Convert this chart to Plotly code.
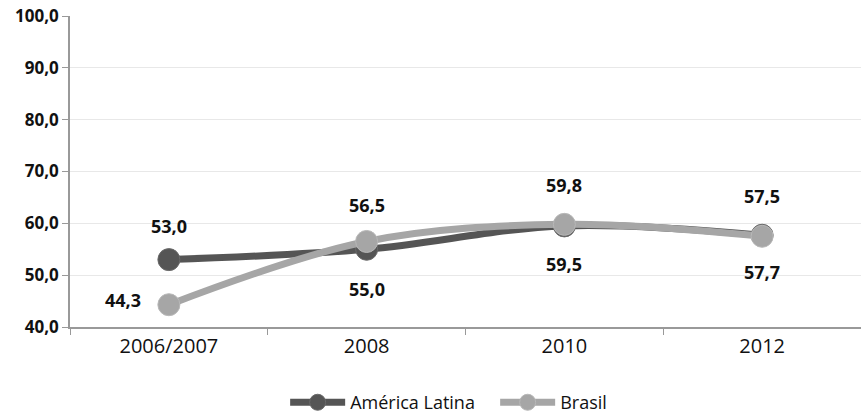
import plotly.graph_objects as go

categories = ["2006/2007", "2008", "2010", "2012"]
america_latina = [53.0, 55.0, 59.5, 57.7]
brasil = [44.3, 56.5, 59.8, 57.5]
# label placement per point: (xshift, yshift)
al_shift = [(0, 34), (0, -40), (0, -38), (0, -37)]
br_shift = [(-46, 5), (0, 36), (0, 39), (0, 40)]
y_ticks = [40, 50, 60, 70, 80, 90, 100]

FONT = "Open Sans"

fig = go.Figure()
fig.add_trace(go.Scatter(
    x=categories, y=america_latina, name="América Latina",
    mode="lines+markers",
    line=dict(color="#555555", width=7, shape="spline"),
    marker=dict(size=22, color="#555555", line=dict(color="#6a6a6a", width=1)),
))
fig.add_trace(go.Scatter(
    x=categories, y=brasil, name="Brasil",
    mode="lines+markers",
    line=dict(color="#a6a6a6", width=7, shape="spline"),
    marker=dict(size=22, color="#a6a6a6", line=dict(color="#b8b8b8", width=1)),
))

for vals, shifts in ((america_latina, al_shift), (brasil, br_shift)):
    for i, (v, (dx, dy)) in enumerate(zip(vals, shifts)):
        fig.add_annotation(
            x=i, y=v, text=f"{v:.1f}".replace(".", ","), showarrow=False,
            xshift=dx, yshift=dy,
            font=dict(size=18, color="#111111", family=FONT, weight="bold"),
        )

fig.update_layout(
    width=861, height=415,
    margin=dict(l=70, r=0, t=16, b=88),
    plot_bgcolor="white", paper_bgcolor="white",
    separators=",.",
    showlegend=True,
    legend=dict(orientation="h", x=0.272, xanchor="left",
                yref="container", y=0.03, yanchor="middle",
                font=dict(size=18, color="#111111", family=FONT),
                itemwidth=55, tracegroupgap=0,
                entrywidth=140, entrywidthmode="pixels"),
    font=dict(family=FONT),
)
fig.update_xaxes(
    type="category", range=[-0.5, 3.5],
    showline=True, linecolor="#999999", linewidth=1.5,
    ticks="outside", tickson="boundaries", ticklen=6, tickcolor="#999999",
    tickfont=dict(size=20, color="#111111", family=FONT),
    showgrid=False,
)
fig.update_yaxes(
    range=[40, 100], tickvals=y_ticks, tickformat=".1f",
    showline=True, linecolor="#999999", linewidth=1.5,
    ticks="outside", ticklen=6, tickcolor="#999999",
    tickfont=dict(size=17, color="#111111", family=FONT, weight="bold"),
    gridcolor="#e8e8e8", gridwidth=1, zeroline=False,
)

fig.write_html("out.html")
